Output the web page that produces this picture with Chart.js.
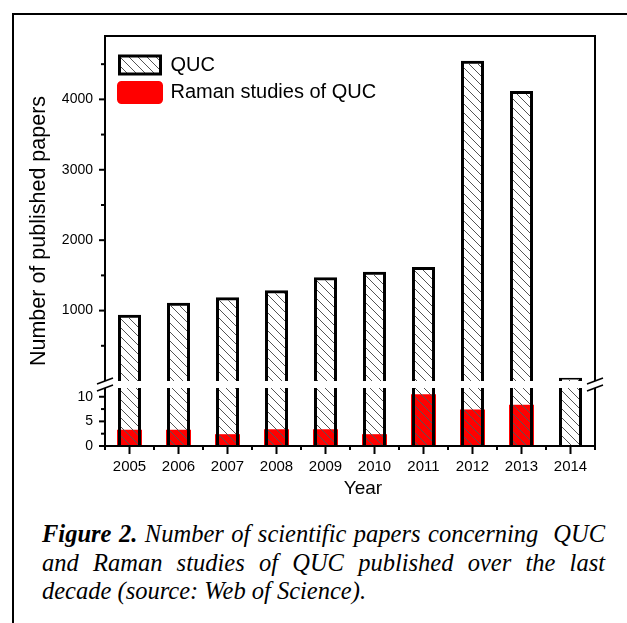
<!DOCTYPE html>
<html>
<head>
<meta charset="utf-8">
<script src="https://cdn.jsdelivr.net/npm/chart.js@4.4.1/dist/chart.umd.min.js"></script>
<style>
  html, body { margin: 0; padding: 0; background: #fff; }
  body { width: 627px; height: 623px; position: relative; overflow: hidden; }
  #frame { position: absolute; left: 12px; top: 13px; width: 700px; height: 700px;
           border-left: 2px solid #000; border-top: 2px solid #000; }
  #chart { position: absolute; left: 0; top: 0; }
  #caption { position: absolute; left: 42px; top: 520px; width: 563px;
             font-family: "Liberation Serif", "Times New Roman", serif; font-style: italic;
             font-size: 24.5px; line-height: 28.5px; color: #000; }
  #caption .j { text-align: justify; text-align-last: justify; }
  #caption b { font-weight: bold; }
</style>
</head>
<body>
<div id="frame"></div>
<canvas id="chart" width="627" height="500"></canvas>
<div id="caption">
  <div class="j"><b>Figure 2.</b> Number of scientific papers concerning &nbsp;QUC</div>
  <div class="j">and Raman studies of QUC published over the last</div>
  <div>decade (source: Web of Science).</div>
</div>
<script>
// data
const years = ['2005', '2006', '2007', '2008', '2009', '2010', '2011', '2012', '2013', '2014'];
const qucPapers = [940, 1110, 1190, 1290, 1475, 1550, 1620, 4550, 4120, 45];
const ramanPapers = [3.3, 3.3, 2.4, 3.4, 3.4, 2.4, 10.5, 7.4, 8.4, 0];

// tick labels of the two parts of the broken y axis
const upperTicks = [1000, 2000, 3000, 4000];
const upperMinor = [500, 1500, 2500, 3500, 4500];
const lowerTicks = [0, 5, 10];
const lowerMinor = [2.5, 7.5];

Chart.defaults.font.family = '"Liberation Sans", Arial, sans-serif';
Chart.defaults.color = '#000';

const canvas = document.getElementById('chart');
const ctx = canvas.getContext('2d');

// diagonal hatch like Origin's pattern
function makeHatch() {
    const s = 9;
    const c = document.createElement('canvas');
    c.width = s;
    c.height = s;
    const g = c.getContext('2d');
    g.strokeStyle = '#555';
    g.lineWidth = 1;
    g.beginPath();
    g.moveTo(-1, -1); g.lineTo(s + 1, s + 1);
    g.moveTo(-1, s - 1); g.lineTo(1, s + 1);
    g.moveTo(s - 1, -1); g.lineTo(s + 1, 1);
    g.stroke();
    return ctx.createPattern(c, 'repeat');
}
const hatch = makeHatch();

const GAP = 7; // white gap of the axis break

function line(c, x1, y1, x2, y2) {
    c.beginPath();
    c.moveTo(x1, y1);
    c.lineTo(x2, y2);
    c.stroke();
}

const brokenAxis = {
    id: 'brokenAxis',
    afterLayout(chart) {
        const a = chart.chartArea;
        const lg = chart.legend;
        lg.left = a.left + 7;
        lg.top = a.top + 11.5;
        lg.bottom = a.bottom;
        lg.right = a.right;
    },
    beforeDatasetDraw(chart, args) {
        const ys = args.meta.yScale;
        const a = chart.chartArea;
        const top = ys.id === 'yBot' ? ys.top + GAP : a.top - 2;
        const c = chart.ctx;
        c.save();
        c.beginPath();
        c.rect(a.left - 3, top, a.right - a.left + 6, ys.bottom - top);
        c.clip();
    },
    afterDatasetDraw(chart) {
        chart.ctx.restore();
    },
    afterDraw(chart) {
        const c = chart.ctx;
        const a = chart.chartArea;
        const yT = chart.scales.yTop;
        const yB = chart.scales.yBot;
        const xs = chart.scales.x;
        const split = yT.bottom;
        const low = yB.top + GAP;
        c.save();
        c.strokeStyle = '#000';
        c.lineWidth = 2;
        // frame
        line(c, a.left - 1, a.top, a.right + 1, a.top);
        line(c, a.left - 1, a.bottom, a.right + 1, a.bottom);
        [a.left, a.right].forEach(px => {
            line(c, px, a.top, px, split);
            line(c, px, low, px, a.bottom);
        });
        // break marks
        c.lineWidth = 1.6;
        [a.left, a.right].forEach(px => {
            [split, low].forEach(py => line(c, px - 8, py + 3, px + 8, py - 3));
        });
        // y ticks
        c.lineWidth = 2;
        upperTicks.forEach(v => { const y = yT.getPixelForValue(v); line(c, a.left - 6, y, a.left, y); });
        upperMinor.forEach(v => { const y = yT.getPixelForValue(v); line(c, a.left - 4, y, a.left, y); });
        lowerTicks.forEach(v => { const y = yB.getPixelForValue(v); line(c, a.left - 6, y, a.left, y); });
        lowerMinor.forEach(v => { const y = yB.getPixelForValue(v); line(c, a.left - 4, y, a.left, y); });
        // x ticks
        years.forEach((yr, i) => {
            const x = xs.getPixelForValue(i);
            line(c, x, a.bottom, x, a.bottom + 8);
            const half = xs.width / years.length / 2;
            line(c, x - half, a.bottom, x - half, a.bottom + 4);
            if (i === years.length - 1) line(c, x + half, a.bottom, x + half, a.bottom + 4);
        });
        // axis titles
        c.fillStyle = '#000';
        c.textAlign = 'center';
        c.textBaseline = 'middle';
        c.font = '21.5px "Liberation Sans", Arial, sans-serif';
        c.save();
        c.translate(39, (a.top + a.bottom) / 2 - 10);
        c.rotate(-Math.PI / 2);
        c.fillText('Number of published papers', 0, 0);
        c.restore();
        c.font = '19px "Liberation Sans", Arial, sans-serif';
        c.fillText('Year', (a.left + a.right) / 2 + 13, 489);
        c.restore();
    }
};

const barCommon = {grouped: false, categoryPercentage: 1};

new Chart(canvas, {
    type: 'bar',
    data: {
        labels: years,
        datasets: [
            Object.assign({
                label: 'QUC',
                data: qucPapers,
                yAxisID: 'yTop',
                backgroundColor: hatch,
                borderColor: '#000',
                borderWidth: 3,
                borderSkipped: 'start',
                barPercentage: 0.47
            }, barCommon),
            Object.assign({
                label: '',
                data: qucPapers,
                yAxisID: 'yBot',
                backgroundColor: hatch,
                borderColor: '#000',
                borderWidth: {left: 3, right: 3, top: 0, bottom: 0},
                barPercentage: 0.47
            }, barCommon),
            Object.assign({
                label: 'Raman studies of QUC',
                data: ramanPapers,
                yAxisID: 'yBot',
                backgroundColor: '#ff0000',
                borderWidth: 0,
                barPercentage: 0.51
            }, barCommon)
        ]
    },
    options: {
        responsive: false,
        animation: false,
        layout: {padding: {left: 45, right: 32, top: 36, bottom: 0}},
        plugins: {
            tooltip: {enabled: false},
            legend: {
                position: 'chartArea',
                align: 'start',
                labels: {
                    boxWidth: 41,
                    boxHeight: 18,
                    padding: 7.5,
                    color: '#000',
                    font: {size: 20},
                    filter: item => item.text !== '',
                    generateLabels(chart) {
                        const items = Chart.defaults.plugins.legend.labels.generateLabels(chart);
                        items.forEach(it => {
                            if (it.text === 'Raman studies of QUC') {
                                it.strokeStyle = '#ff0000';
                                it.lineWidth = 5;
                                it.borderRadius = 2;
                            }
                        });
                        return items;
                    }
                }
            }
        },
        scales: {
            x: {
                type: 'category',
                offset: true,
                grid: {display: false, drawTicks: false},
                border: {display: false},
                ticks: {font: {size: 15}, padding: 12, maxRotation: 0, autoSkip: false},
                afterFit: s => { s.height = 54; }
            },
            // the lower part is listed first so that the upper part is stacked above it
            yBot: {
                type: 'linear',
                position: 'left',
                stack: 'left',
                stackWeight: 65,
                min: 0,
                max: 13.2,
                grid: {display: false, drawTicks: false},
                border: {display: false},
                ticks: {font: {size: 14}, padding: 12, autoSkip: false, callback: v => v},
                afterBuildTicks: s => { s.ticks = lowerTicks.map(v => ({value: v})); },
                afterFit: s => { s.width = 60; }
            },
            yTop: {
                type: 'linear',
                position: 'left',
                stack: 'left',
                stackWeight: 345,
                min: 0,
                max: 4900,
                grid: {display: false, drawTicks: false},
                border: {display: false},
                ticks: {font: {size: 14}, padding: 12, autoSkip: false, callback: v => v},
                afterBuildTicks: s => { s.ticks = upperTicks.map(v => ({value: v})); },
                afterFit: s => { s.width = 60; }
            }
        }
    },
    plugins: [brokenAxis]
});
</script>
</body>
</html>
